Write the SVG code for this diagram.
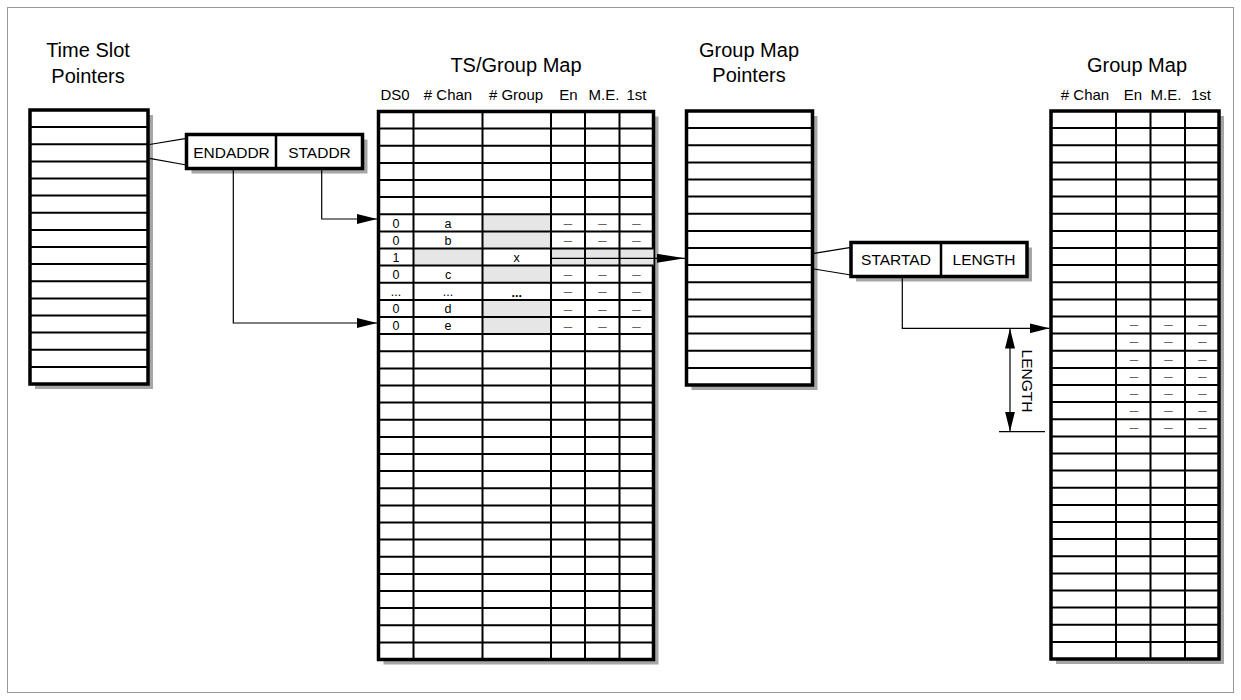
<svg xmlns="http://www.w3.org/2000/svg" width="1241" height="700" viewBox="0 0 1241 700">
<style>
  .title { font-family: "Liberation Sans", Arial, sans-serif; font-size: 20px; fill: #000; text-anchor: middle; }
  .hdr { font-family: "Liberation Sans", Arial, sans-serif; font-size: 15px; fill: #000; text-anchor: middle; }
  .box { font-family: "Liberation Sans", Arial, sans-serif; font-size: 15.5px; fill: #000; text-anchor: middle; }
  .cell { font-family: "Liberation Sans", Arial, sans-serif; font-size: 12.5px; fill: #000; text-anchor: middle; }
  .dash { font-family: "Liberation Sans", Arial, sans-serif; font-size: 15px; fill: #666; text-anchor: middle; }
  .shadow { fill: #a6a6a6; }
  .frame { fill: #fff; stroke: #000; stroke-width: 3.5; }
  .grid { fill: none; stroke: #000; stroke-width: 2; }
  .gray { fill: #e6e6e6; }
  .conn { fill: none; stroke: #000; stroke-width: 1.2; }
</style>
<defs>
  <marker id="ah" markerUnits="userSpaceOnUse" markerWidth="20" markerHeight="10" refX="20" refY="5" orient="auto-start-reverse">
    <path d="M0,0 L20,5 L0,10 z" fill="#000"/>
  </marker>
  <marker id="ahl" markerUnits="userSpaceOnUse" markerWidth="28" markerHeight="9" refX="28" refY="4.5" orient="auto">
    <path d="M0,0 L28,4.5 L0,9 z" fill="#000"/>
  </marker>
</defs>
<rect width="1241" height="700" fill="#fff"/>
<rect x="7.5" y="7.5" width="1226" height="685" fill="none" stroke="#999" stroke-width="1"/>

<!-- Time Slot Pointers -->
<g id="time-slot-pointers">
  <text class="title" x="88" y="57">Time Slot</text>
  <text class="title" x="88" y="83">Pointers</text>
  <rect class="shadow" x="35" y="115" width="118" height="274"/>
  <rect class="frame" x="30" y="110" width="118" height="274"/>
  <path class="grid" d="M30,127.1H148M30,144.3H148M30,161.4H148M30,178.5H148M30,195.6H148M30,212.8H148M30,229.9H148M30,247H148M30,264.1H148M30,281.3H148M30,298.4H148M30,315.5H148M30,332.6H148M30,349.8H148M30,366.9H148"/>
</g>

<!-- ENDADDR / STADDR -->
<g id="endaddr-staddr">
  <rect class="shadow" x="191.5" y="139.5" width="176" height="34"/>
  <rect class="frame" x="186.5" y="134.5" width="176" height="34" stroke-width="3"/>
  <line x1="276" y1="134.5" x2="276" y2="168.5" stroke="#000" stroke-width="2.5"/>
  <text class="box" x="231.5" y="158.3">ENDADDR</text>
  <text class="box" x="319.5" y="158.3">STADDR</text>
</g>

<!-- TS/Group Map -->
<g id="ts-group-map">
  <text class="title" x="516" y="72">TS/Group Map</text>
  <text class="hdr" x="395" y="100">DS0</text>
  <text class="hdr" x="448" y="100"># Chan</text>
  <text class="hdr" x="516" y="100"># Group</text>
  <text class="hdr" x="568.5" y="100">En</text>
  <text class="hdr" x="604" y="100">M.E.</text>
  <text class="hdr" x="636.5" y="100">1st</text>
  <rect class="shadow" x="383.5" y="116.5" width="275" height="548"/>
  <rect class="frame" x="378.5" y="111.5" width="275" height="548"/>
  <!-- gray cells -->
  <rect class="gray" x="482.5" y="214.3" width="68.5" height="34.2"/>
  <rect class="gray" x="413.5" y="248.5" width="69" height="17.1"/>
  <rect class="gray" x="551" y="248.5" width="102.5" height="17.1"/>
  <rect class="gray" x="482.5" y="265.6" width="68.5" height="17.1"/>
  <rect class="gray" x="482.5" y="299.9" width="68.5" height="34.2"/>
  <path class="grid" d="M413.5,111.5V659.5M482.5,111.5V659.5M551,111.5V659.5M585,111.5V659.5M619.5,111.5V659.5"/>
  <path class="grid" d="M378.5,128.6H653.5M378.5,145.8H653.5M378.5,162.9H653.5M378.5,180H653.5M378.5,197.1H653.5M378.5,214.3H653.5M378.5,231.4H653.5M378.5,248.5H653.5M378.5,265.6H653.5M378.5,282.8H653.5M378.5,299.9H653.5M378.5,317H653.5M378.5,334.1H653.5M378.5,351.3H653.5M378.5,368.4H653.5M378.5,385.5H653.5M378.5,402.6H653.5M378.5,419.8H653.5M378.5,436.9H653.5M378.5,454H653.5M378.5,471.1H653.5M378.5,488.3H653.5M378.5,505.4H653.5M378.5,522.5H653.5M378.5,539.6H653.5M378.5,556.8H653.5M378.5,573.9H653.5M378.5,591H653.5M378.5,608.1H653.5M378.5,625.3H653.5M378.5,642.4H653.5"/>
  <!-- row a -->
  <text class="cell" x="396" y="227.5">0</text>
  <text class="cell" x="448" y="227.5">a</text>
  <text class="dash" x="568" y="228">–</text>
  <text class="dash" x="602.3" y="228">–</text>
  <text class="dash" x="636.5" y="228">–</text>
  <!-- row b -->
  <text class="cell" x="396" y="244.6">0</text>
  <text class="cell" x="448" y="244.6">b</text>
  <text class="dash" x="568" y="245.1">–</text>
  <text class="dash" x="602.3" y="245.1">–</text>
  <text class="dash" x="636.5" y="245.1">–</text>
  <!-- row 1 / x -->
  <text class="cell" x="396" y="261.7">1</text>
  <text class="cell" x="516.7" y="261.7">x</text>
  <!-- row c -->
  <text class="cell" x="396" y="278.8">0</text>
  <text class="cell" x="448" y="278.8">c</text>
  <text class="dash" x="568" y="279.3">–</text>
  <text class="dash" x="602.3" y="279.3">–</text>
  <text class="dash" x="636.5" y="279.3">–</text>
  <!-- row ... -->
  <text class="cell" x="396" y="296" font-size="10">...</text>
  <text class="cell" x="448" y="296" font-size="10">...</text>
  <text class="cell" x="516.7" y="296.5" font-size="14" font-weight="bold">...</text>
  <text class="dash" x="568" y="296.4">–</text>
  <text class="dash" x="602.3" y="296.4">–</text>
  <text class="dash" x="636.5" y="296.4">–</text>
  <!-- row d -->
  <text class="cell" x="396" y="313.1">0</text>
  <text class="cell" x="448" y="313.1">d</text>
  <text class="dash" x="568" y="313.6">–</text>
  <text class="dash" x="602.3" y="313.6">–</text>
  <text class="dash" x="636.5" y="313.6">–</text>
  <!-- row e -->
  <text class="cell" x="396" y="330.2">0</text>
  <text class="cell" x="448" y="330.2">e</text>
  <text class="dash" x="568" y="330.7">–</text>
  <text class="dash" x="602.3" y="330.7">–</text>
  <text class="dash" x="636.5" y="330.7">–</text>
</g>

<!-- Group Map Pointers -->
<g id="group-map-pointers">
  <text class="title" x="749" y="57">Group Map</text>
  <text class="title" x="749" y="82">Pointers</text>
  <rect class="shadow" x="691.5" y="116" width="126" height="274"/>
  <rect class="frame" x="686.5" y="111" width="126" height="274"/>
  <path class="grid" d="M686.5,128.1H812.5M686.5,145.3H812.5M686.5,162.4H812.5M686.5,179.5H812.5M686.5,196.6H812.5M686.5,213.8H812.5M686.5,230.9H812.5M686.5,248H812.5M686.5,265.1H812.5M686.5,282.3H812.5M686.5,299.4H812.5M686.5,316.5H812.5M686.5,333.6H812.5M686.5,350.8H812.5M686.5,367.9H812.5"/>
</g>

<!-- STARTAD / LENGTH -->
<g id="startad-length">
  <rect class="shadow" x="856" y="247.5" width="176" height="34"/>
  <rect class="frame" x="851" y="242.5" width="176" height="34" stroke-width="3"/>
  <line x1="941" y1="242.5" x2="941" y2="276.5" stroke="#000" stroke-width="2.5"/>
  <text class="box" x="896" y="264.5">STARTAD</text>
  <text class="box" x="984" y="264.5">LENGTH</text>
</g>

<!-- Group Map -->
<g id="group-map">
  <text class="title" x="1137" y="72">Group Map</text>
  <text class="hdr" x="1085" y="100"># Chan</text>
  <text class="hdr" x="1133" y="100">En</text>
  <text class="hdr" x="1166" y="100">M.E.</text>
  <text class="hdr" x="1201" y="100">1st</text>
  <rect class="shadow" x="1056" y="116" width="168" height="548"/>
  <rect class="frame" x="1051" y="111" width="168" height="548"/>
  <path class="grid" d="M1116,111V659M1150.5,111V659M1185,111V659"/>
  <path class="grid" d="M1051,128.1H1219M1051,145.3H1219M1051,162.4H1219M1051,179.5H1219M1051,196.6H1219M1051,213.8H1219M1051,230.9H1219M1051,248H1219M1051,265.1H1219M1051,282.3H1219M1051,299.4H1219M1051,316.5H1219M1051,333.6H1219M1051,350.8H1219M1051,367.9H1219M1051,385H1219M1051,402.1H1219M1051,419.3H1219M1051,436.4H1219M1051,453.5H1219M1051,470.6H1219M1051,487.8H1219M1051,504.9H1219M1051,522H1219M1051,539.1H1219M1051,556.3H1219M1051,573.4H1219M1051,590.5H1219M1051,607.6H1219M1051,624.8H1219M1051,641.9H1219"/>
  <text class="dash" x="1134" y="329.3">–</text><text class="dash" x="1168.3" y="329.3">–</text><text class="dash" x="1202.5" y="329.3">–</text>
  <text class="dash" x="1134" y="346.4">–</text><text class="dash" x="1168.3" y="346.4">–</text><text class="dash" x="1202.5" y="346.4">–</text>
  <text class="dash" x="1134" y="363.5">–</text><text class="dash" x="1168.3" y="363.5">–</text><text class="dash" x="1202.5" y="363.5">–</text>
  <text class="dash" x="1134" y="380.7">–</text><text class="dash" x="1168.3" y="380.7">–</text><text class="dash" x="1202.5" y="380.7">–</text>
  <text class="dash" x="1134" y="397.8">–</text><text class="dash" x="1168.3" y="397.8">–</text><text class="dash" x="1202.5" y="397.8">–</text>
  <text class="dash" x="1134" y="414.9">–</text><text class="dash" x="1168.3" y="414.9">–</text><text class="dash" x="1202.5" y="414.9">–</text>
  <text class="dash" x="1134" y="432">–</text><text class="dash" x="1168.3" y="432">–</text><text class="dash" x="1202.5" y="432">–</text>
</g>

<!-- Connectors -->
<g id="connectors">
  <line class="conn" x1="149.5" y1="144.5" x2="186.5" y2="138.3" stroke-width="1.5"/>
  <line class="conn" x1="149.5" y1="158.3" x2="186.5" y2="165" stroke-width="1.5"/>
  <polyline class="conn" points="321.7,168.5 321.7,219 377,219" marker-end="url(#ah)"/>
  <polyline class="conn" points="233.3,168.5 233.3,323 377,323" marker-end="url(#ah)"/>
  <line class="conn" x1="551" y1="258.3" x2="685" y2="258.3" marker-end="url(#ahl)"/>
  <line class="conn" x1="814" y1="253.3" x2="851" y2="247.3" stroke-width="1.5"/>
  <line class="conn" x1="814" y1="269" x2="851" y2="275" stroke-width="1.5"/>
  <polyline class="conn" points="902.3,276.5 902.3,328.3 1049.5,328.3" marker-end="url(#ah)"/>
  <line class="conn" x1="1010" y1="328.5" x2="1010" y2="431.5" marker-start="url(#ah)" marker-end="url(#ah)"/>
  <line class="conn" x1="999" y1="431.7" x2="1045" y2="431.7"/>
  <text class="box" transform="translate(1022,381) rotate(90)" font-size="15.5">LENGTH</text>
</g>
</svg>
